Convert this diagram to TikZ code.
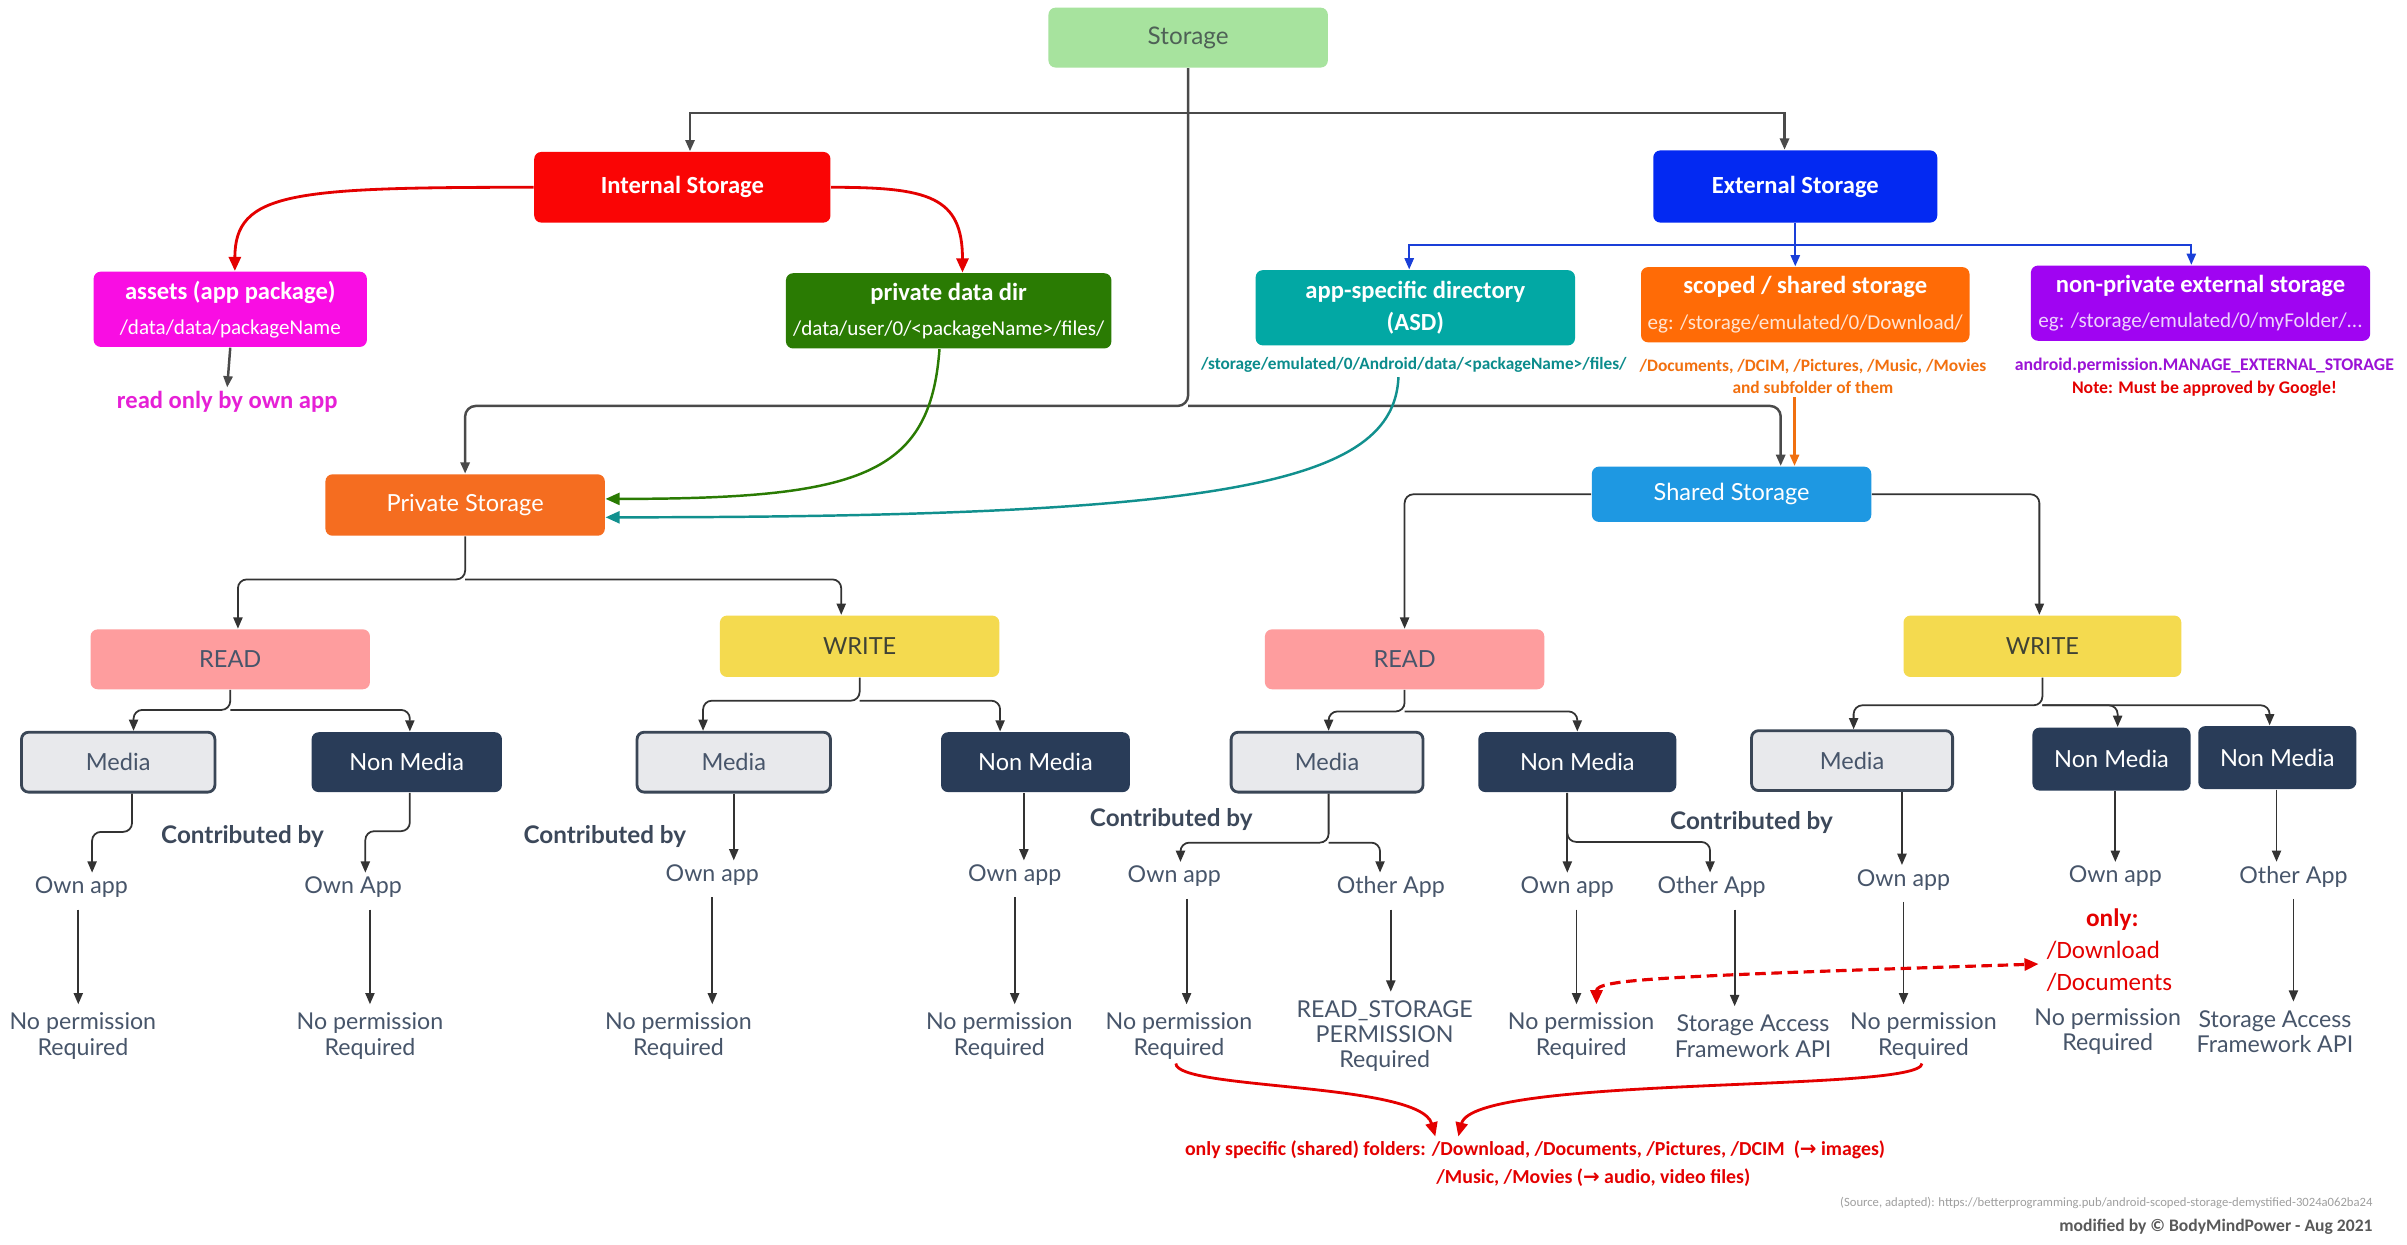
\documentclass[tikz,border=0pt]{standalone}
\usepackage{fontspec}
\setmainfont{Carlito}
\newfontfamily\latofont{Lato}
\newfontfamily\djvfont{DejaVu Sans}
\usetikzlibrary{arrows.meta}
\def\pxu{0.01535cm}
\definecolor{cStorage}{HTML}{A7E39E}
\definecolor{cStorageTxt}{HTML}{4E6156}
\definecolor{cInternal}{HTML}{FA0505}
\definecolor{cAssets}{HTML}{F90DE3}
\definecolor{cPdd}{HTML}{2A7B03}
\definecolor{cExternal}{HTML}{0329F2}
\definecolor{cAsd}{HTML}{02A8A4}
\definecolor{cScoped}{HTML}{FF6B06}
\definecolor{cNonpriv}{HTML}{A004F2}
\definecolor{cPrivate}{HTML}{F56D20}
\definecolor{cShared}{HTML}{1E98E2}
\definecolor{cRead}{HTML}{FE9D9E}
\definecolor{cWrite}{HTML}{F4DA4F}
\definecolor{cMedia}{HTML}{E8E9EC}
\definecolor{cMediaBd}{HTML}{3A4656}
\definecolor{cNonMedia}{HTML}{293C58}
\definecolor{cSlate}{HTML}{47556A}
\definecolor{cWriteTxt}{HTML}{3F4235}
\definecolor{cTxtMag}{HTML}{E620D6}
\definecolor{cTxtTeal}{HTML}{0B8C8C}
\definecolor{cTxtOr}{HTML}{F2700F}
\definecolor{cTxtPur}{HTML}{9B12D6}
\definecolor{cRed}{HTML}{E40000}
\definecolor{cLine}{HTML}{333333}
\definecolor{cTopLine}{HTML}{4A4A4A}
\definecolor{cGreenLine}{HTML}{2A7B03}
\definecolor{cTealLine}{HTML}{11908E}
\definecolor{cBlueLine}{HTML}{1A3FD8}
\definecolor{cOrLine}{HTML}{F07010}
\newcommand\boxsub[1]{{\mdseries\fontsize{6}{7}\selectfont #1}}
\tikzset{
  wh/.style 2 args={minimum width=#1*\pxu, minimum height=#2*\pxu},
  topbox/.style={rounded corners=2pt, inner sep=0pt, align=center, text=white,
    font=\bfseries\fontsize{7}{8.5}\selectfont},
  treebox/.style={rounded corners=2pt, inner sep=0pt, font=\latofont\fontsize{6.7}{8}\selectfont},
  mediabox/.style={treebox, fill=cMedia, draw=cMediaBd, line width=0.8pt, text=cSlate},
  nmbox/.style={treebox, fill=cNonMedia, text=white},
  ttxt/.style={inner sep=1pt, align=center, text=cSlate, font=\latofont\fontsize{6.6}{7.2}\selectfont},
  contrib/.style={inner sep=1pt, text=cSlate!85!black, font=\latofont\bfseries\fontsize{6.9}{8}\selectfont},
  arr/.style={-{Triangle[length=3.2pt,width=2.6pt]}},
  bigarr/.style={-{Triangle[length=4pt,width=3.4pt]}},
  topc/.style={draw=cTopLine, line width=0.7pt, arr},
  treec/.style={draw=cLine, line width=0.5pt, arr, rounded corners=2.5pt},
  vert/.style={draw=cLine, line width=0.5pt, arr, shorten <=5*\pxu, shorten >=3*\pxu},
  redc/.style={draw=cRed, line width=0.8pt, bigarr},
}
\begin{document}
\begin{tikzpicture}[x=\pxu, y=-\pxu]
\useasboundingbox (0,0) rectangle (1568,810.4);
\fill[white] (0,0) rectangle (1568,810.4);

% ---------- top level boxes
\node[topbox, fill=cStorage, text=cStorageTxt, font=\latofont\fontsize{6.9}{8}\selectfont, wh={182}{39}] (storage) at (774,24.5) {Storage};
\node[topbox, fill=cInternal, wh={193}{46}] (internal) at (444.5,122) {Internal Storage};
\node[topbox, fill=cExternal, wh={185}{47}] (external) at (1169.5,121.5) {External Storage};
\node[topbox, fill=cAssets, wh={178}{49}] (assets) at (150,201.5) {assets (app package)\\[1.5pt]\boxsub{/data/data/packageName}};
\node[topbox, fill=cPdd, wh={212}{49}] (pdd) at (618,202.5) {private data dir\\[1.5pt]\boxsub{/data/user/0/<packageName>/files/}};
\node[topbox, fill=cAsd, wh={208}{49}] (asd) at (922,200.5) {app-specific directory\\[0.5pt](ASD)};
\node[topbox, fill=cScoped, wh={214}{49}] (scoped) at (1176,198.5) {scoped / shared storage\\[1.5pt]\boxsub{\textcolor{white!82!cScoped}{eg: /storage/emulated/0/Download/}}};
\node[topbox, fill=cNonpriv, wh={221}{49}] (nonpriv) at (1433.5,197.5) {non-private external storage\\[1.5pt]\boxsub{\textcolor{white!82!cNonpriv}{eg: /storage/emulated/0/myFolder/...}}};

% ---------- annotations under top boxes
\node[inner sep=1pt, text=cTxtMag, font=\bfseries\fontsize{7}{8}\selectfont] (readonly) at (148,262) {read only by own app};
\node[inner sep=1pt, text=cTxtTeal, font=\bfseries\fontsize{4.92}{6}\selectfont] (asdtxt) at (921,238) {/storage/emulated/0/Android/data/<packageName>/files/};
\node[inner sep=1pt, align=center, text=cTxtOr, font=\bfseries\fontsize{4.95}{6.2}\selectfont] (scopedtxt) at (1181,245) {/Documents, /DCIM, /Pictures, /Music, /Movies\\and subfolder of them};
\node[inner sep=1pt, align=center, text=cTxtPur, font=\bfseries\fontsize{5.05}{6.5}\selectfont] (nonprivtxt) at (1436,245.5) {android.permission.MANAGE\_EXTERNAL\_STORAGE\\\textcolor{cRed}{Note: Must be approved by Google!}};

% ---------- second level
\node[treebox, fill=cPrivate, text=white, wh={182}{40}] (private) at (303,329) {Private Storage};
\node[treebox, fill=cShared, text=white, wh={182}{36}] (shared) at (1128,322) {Shared Storage};
\node[treebox, fill=cRead, text=cSlate, wh={182}{39}] (read1) at (150,429.5) {READ};
\node[treebox, fill=cWrite, text=cWriteTxt, wh={182}{40}] (write1) at (560,421) {WRITE};
\node[treebox, fill=cRead, text=cSlate, wh={182}{39}] (read2) at (915,429.5) {READ};
\node[treebox, fill=cWrite, text=cWriteTxt, wh={181}{40}] (write2) at (1330.5,421) {WRITE};

\node[mediabox, wh={126}{39}] (media1) at (77,496.5) {Media};
\node[nmbox, wh={124}{39}] (nm1) at (265,496.5) {Non Media};
\node[mediabox, wh={126}{39}] (media2) at (478,496.5) {Media};
\node[nmbox, wh={123}{39}] (nm2) at (674.5,496.5) {Non Media};
\node[mediabox, wh={125}{39}] (media3) at (864.5,496.5) {Media};
\node[nmbox, wh={129}{39}] (nm3) at (1027.5,496.5) {Non Media};
\node[mediabox, wh={131}{39}] (media4) at (1206.5,495.5) {Media};
\node[nmbox, wh={103}{41}] (nm4) at (1375.5,494.5) {Non Media};
\node[nmbox, wh={103}{41}] (nm5) at (1483.5,493.5) {Non Media};

% ---------- contributed by
\node[contrib] (contrib1) at (158,545) {Contributed by};
\node[contrib] (contrib2) at (394,545) {Contributed by};
\node[contrib] (contrib3) at (763,534) {Contributed by};
\node[contrib] (contrib4) at (1141,536) {Contributed by};

% ---------- own / other app
\node[ttxt] (own1) at (53,578) {Own app};
\node[ttxt] (own2) at (230,578) {Own App};
\node[ttxt] (own3) at (464,570) {Own app};
\node[ttxt] (own4) at (661,570) {Own app};
\node[ttxt] (own5) at (765,571) {Own app};
\node[ttxt] (other5) at (906,578) {Other App};
\node[ttxt] (own6) at (1021,578) {Own app};
\node[ttxt] (other6) at (1115,578) {Other App};
\node[ttxt] (own7) at (1240,573) {Own app};
\node[ttxt] (own8) at (1378,571) {Own app};
\node[ttxt] (other9) at (1494,571) {Other App};

% ---------- permissions
\node[ttxt] (perm1) at (54,675) {No permission\\Required};
\node[ttxt] (perm2) at (241,675) {No permission\\Required};
\node[ttxt] (perm3) at (442,675) {No permission\\Required};
\node[ttxt] (perm4) at (651,675) {No permission\\Required};
\node[ttxt] (perm5) at (768,675) {No permission\\Required};
\node[ttxt] (perm6) at (902,675) {READ\_STORAGE\\PERMISSION\\Required};
\node[ttxt] (perm7) at (1030,675) {No permission\\Required};
\node[ttxt] (saf1) at (1142,675) {Storage Access\\Framework API};
\node[ttxt] (perm8) at (1253,675) {No permission\\Required};
\node[ttxt] (perm9) at (1373,672) {No permission\\Required};
\node[ttxt] (saf2) at (1482,672) {Storage Access\\Framework API};

% ---------- only: /Download /Documents
\node[inner sep=0pt, text=cRed, font=\bfseries\fontsize{7.2}{8}\selectfont] (onlyt) at (1376,599) {only:};
\node[inner sep=0pt, anchor=west, text=cRed, font=\fontsize{7.1}{8}\selectfont] (dl) at (1333,619) {/Download};
\node[inner sep=0pt, anchor=west, text=cRed, font=\fontsize{7.1}{8}\selectfont] (docs) at (1333,640) {/Documents};

% ---------- bottom notes
\node[inner sep=1pt, text=cRed, font=\bfseries\fontsize{5.65}{6.5}\selectfont] (bot1) at (1000,749) {only specific (shared) folders: /Download, /Documents, /Pictures, /DCIM\ \ ({\djvfont →} images)};
\node[inner sep=1pt, anchor=west, text=cRed, font=\bfseries\fontsize{5.65}{6.5}\selectfont] (bot2) at (933,767) {/Music, /Movies ({\djvfont →} audio, video files)};
\node[inner sep=0pt, anchor=east, text=gray!75, font=\fontsize{3.6}{4}\selectfont] (src) at (1546,783.5) {(Source, adapted): https://betterprogramming.pub/android-scoped-storage-demystified-3024a062ba24};
\node[inner sep=0pt, anchor=east, text=black!65, font=\bfseries\fontsize{5}{6}\selectfont] (mod) at (1546,799) {modified by © BodyMindPower - Aug 2021};

% ================= connectors
% Storage -> Internal / External
\draw[topc] (storage.south) -- ++(0,29) coordinate (j1) -| ([xshift=5*\pxu]internal.north);
\draw[topc] (j1) -| ([xshift=-7*\pxu]external.north);
% Storage -> Private / Shared
\draw[topc, rounded corners=3pt] (storage.south) -- ++(0,220) coordinate (j2) -| (private.north);
\draw[topc, rounded corners=3pt] (j2) -| ([xshift=32*\pxu]shared.north);
% Internal -> assets / private data dir
\draw[redc] (internal.west) .. controls (190,122) and (153,125) .. ([xshift=3*\pxu]assets.north);
\draw[redc] (internal.east) .. controls (605,122) and (627,128) .. ([xshift=9*\pxu]pdd.north);
\draw[draw=cTopLine, line width=0.7pt, arr] (assets.south) -- (readonly.north);
% private data dir / ASD -> Private Storage
\draw[draw=cGreenLine, line width=0.7pt, bigarr] ([xshift=-6*\pxu]pdd.south) .. controls (606,310) and (560,325) .. ([yshift=4*\pxu]private.east);
\draw[draw=cTealLine, line width=0.7pt, bigarr] ([xshift=-10*\pxu]asdtxt.south) .. controls (908,315) and (800,337) .. ([yshift=-8*\pxu]private.east);
% External -> three
\draw[draw=cBlueLine, line width=0.6pt, arr] (external.south) -- ++(0,14) coordinate (j3) -| ([xshift=-4*\pxu]asd.north);
\draw[draw=cBlueLine, line width=0.6pt, arr] (external.south) -- (external.south |- scoped.north);
\draw[draw=cBlueLine, line width=0.6pt, arr] (j3) -| ([xshift=-6*\pxu]nonpriv.north);
% scoped -> Shared
\coordinate (ot) at ([xshift=41*\pxu]shared.north);
\draw[draw=cOrLine, line width=0.7pt, arr] (ot |- scopedtxt.south) -- (ot);
% Shared -> READ / WRITE
\draw[treec] (shared.west) -| (read2.north);
\draw[treec] (shared.east) -| ([xshift=-2*\pxu]write2.north);
% Private -> READ / WRITE
\draw[treec] (private.south) -- ++(0,28) coordinate (j4) -| ([xshift=5*\pxu]read1.north);
\draw[treec] (j4) -| ([xshift=-12*\pxu]write1.north);
% READ1 / WRITE1 -> Media / Non Media
\draw[treec] (read1.south) -- ++(0,13) coordinate (j5) -| ([xshift=10*\pxu]media1.north);
\draw[treec] (j5) -| ([xshift=2*\pxu]nm1.north);
\draw[treec] (write1.south) -- ++(0,15) coordinate (j6) -| ([xshift=-20*\pxu]media2.north);
\draw[treec] (j6) -| ([xshift=-23*\pxu]nm2.north);
% READ2 / WRITE2 -> Media / Non Media
\draw[treec] (read2.south) -- ++(0,14) coordinate (j7) -| ([xshift=1*\pxu]media3.north);
\draw[treec] (j7) -| (nm3.north);
\draw[treec] (write2.south) -- ++(0,18) coordinate (j8) -| ([xshift=1*\pxu]media4.north);
\draw[treec] (j8) -| ([xshift=4*\pxu]nm4.north);
\draw[treec] (j8) -| ([xshift=-5*\pxu]nm5.north);
% Media / Non Media -> Own / Other app
\draw[treec] ([xshift=9*\pxu]media1.south) -- ++(0,25) -| ([xshift=7*\pxu]own1.north);
\draw[treec] ([xshift=2*\pxu]nm1.south) -- ++(0,25) -| ([xshift=8*\pxu]own2.north);
\coordinate (m2s) at (media2.south);
\draw[treec] (m2s) -- (m2s |- own3.north);
\coordinate (n2s) at ([xshift=-7.5*\pxu]nm2.south);
\draw[treec] (n2s) -- (n2s |- own4.north);
\draw[treec] ([xshift=1*\pxu]media3.south) -- ++(0,32) coordinate (j9) -| ([xshift=4*\pxu]own5.north);
\draw[treec] (j9) -| ([xshift=-7*\pxu]other5.north);
\coordinate (n3s) at ([xshift=-6.5*\pxu]nm3.south);
\draw[treec] (n3s) -- (n3s |- own6.north);
\draw[treec] (n3s) -- ++(0,32) -| ([xshift=-1*\pxu]other6.north);
\coordinate (m4s) at ([xshift=32.5*\pxu]media4.south);
\draw[treec] (m4s) -- (m4s |- own7.north);
\coordinate (n4s) at ([xshift=2.5*\pxu]nm4.south);
\draw[treec] (n4s) -- (n4s |- own8.north);
\coordinate (n5s) at ([xshift=-0.5*\pxu]nm5.south);
\draw[treec] (n5s) -- (n5s |- other9.north);
% Own / Other app -> permission
\draw[vert] ([xshift=-2*\pxu]own1.south) -- ([xshift=-2*\pxu]own1.south |- perm1.north);
\draw[vert] (own2.south -| perm2.north) -- (perm2.north);
\draw[vert] (own3.south) -- (own3.south |- perm3.north);
\draw[vert] (own4.south) -- (own4.south |- perm4.north);
\draw[vert] ([xshift=8*\pxu]own5.south) -- ([xshift=8*\pxu]own5.south |- perm5.north);
\draw[vert] (other5.south) -- (other5.south |- perm6.north);
\draw[vert] ([xshift=6*\pxu]own6.south) -- ([xshift=6*\pxu]own6.south |- perm7.north);
\draw[vert] ([xshift=15*\pxu]other6.south) -- ([xshift=15*\pxu]other6.south |- saf1.north);
\draw[vert] (own7.south) -- (own7.south |- perm8.north);
\draw[vert] (other9.south) -- (other9.south |- saf2.north);
% red dashed double arrow
\draw[draw=cRed, line width=0.9pt, dash pattern=on 3pt off 1.6pt, {Triangle[length=4pt,width=3.4pt]}-{Triangle[length=4pt,width=3.4pt]}]
  ([shift={(10,-3)}]perm7.north) .. controls (1040,638) and (1080,636) .. ([shift={(-5,9)}]dl.west);
% red curves to bottom note
\draw[redc] ([xshift=-2*\pxu]perm5.south) .. controls (766,710) and (925,705) .. ([xshift=-65*\pxu]bot1.north);
\draw[redc] ([xshift=-1*\pxu]perm8.south) .. controls (1252,712) and (960,700) .. ([xshift=-50*\pxu]bot1.north);
\end{tikzpicture}
\end{document}
